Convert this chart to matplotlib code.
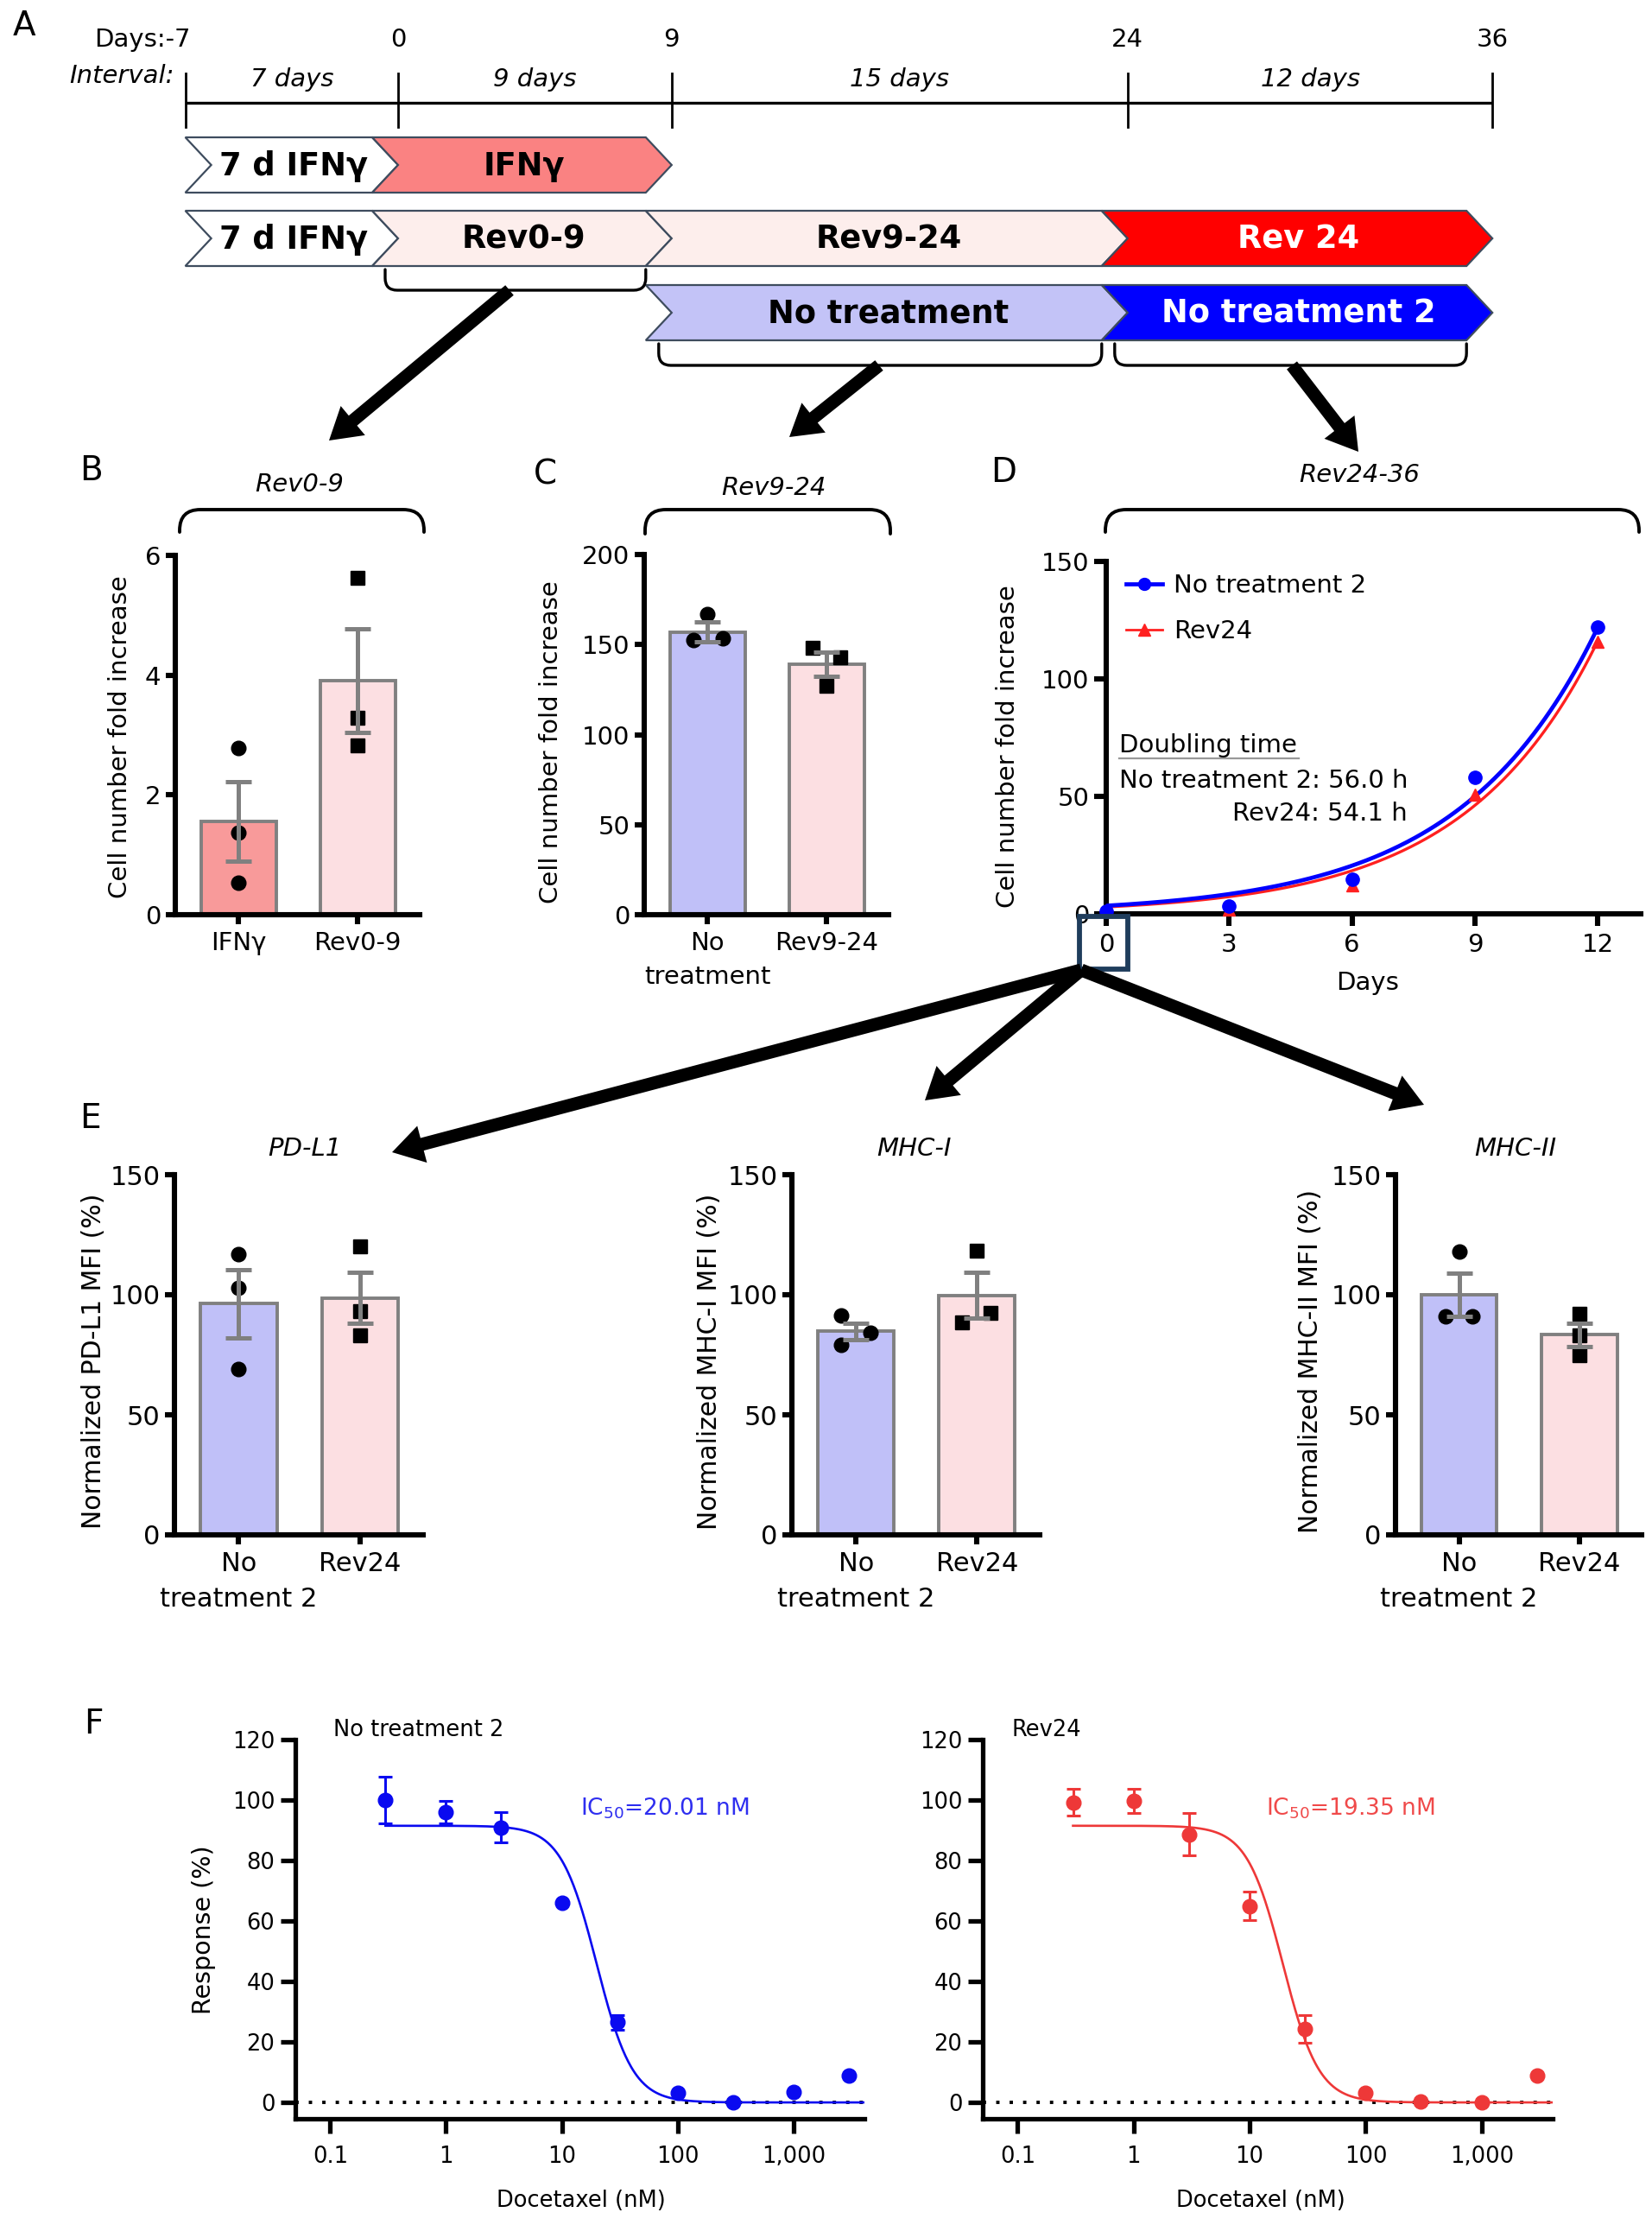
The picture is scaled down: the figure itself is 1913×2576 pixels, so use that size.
import numpy as np
import matplotlib
matplotlib.use("Agg")
import matplotlib.pyplot as plt
from matplotlib.patches import Polygon, FancyArrow, Rectangle, PathPatch
from matplotlib.path import Path
from matplotlib.lines import Line2D

# ---------------- data ----------------
# Panel A schematic (day ranges)
timeline_days = [-7, 0, 9, 24, 36]
interval_labels = ["7 days", "9 days", "15 days", "12 days"]
row1 = [("7 d IFNγ", -7, 0, "#FFFFFF", "black"), ("IFNγ", 0, 9, "#FA8282", "black")]
row2 = [("7 d IFNγ", -7, 0, "#FFFFFF", "black"), ("Rev0-9", 0, 9, "#FDEEEC", "black"),
        ("Rev9-24", 9, 24, "#FDEEEC", "black"), ("Rev 24", 24, 36, "#FF0000", "white")]
row3 = [("No treatment", 9, 24, "#C3C3F7", "black"), ("No treatment 2", 24, 36, "#0000FF", "white")]
brackets_days = [(0, 9, 1), (9, 24, 2), (24, 36, 2)]

# Panel B
b_labels = ["IFNγ", "Rev0-9"]
b_means = [1.56, 3.91]
b_sems = [0.66, 0.86]
b_points = [[2.78, 1.37, 0.53], [5.62, 3.29, 2.83]]
b_offsets = [[0, 0, 0], [0, 0, 0]]

# Panel C
c_labels = ["No\ntreatment", "Rev9-24"]
c_means = [157.0, 139.0]
c_sems = [5.5, 6.8]
c_points = [[167, 152.5, 153.5], [148, 143, 127]]
c_offsets = [[0, -0.12, 0.13], [-0.115, 0.115, 0]]

# Panel D
d_days = [0, 3, 6, 9, 12]
d_nt2 = [1, 3.3, 14.7, 58, 122]
d_rev24 = [1, 2.0, 12.3, 50.7, 115.8]
d_doubling_h = [56.0, 54.1]        # No treatment 2, Rev24
d_fit_y0 = [3.45, 2.9]

# Panel E
e_titles = ["PD-L1", "MHC-I", "MHC-II"]
e_ylabels = ["Normalized PD-L1 MFI (%)", "Normalized MHC-I MFI (%)", "Normalized MHC-II MFI (%)"]
e_labels = ["No\ntreatment 2", "Rev24"]
e_means = [[96.3, 98.7], [84.8, 99.8], [100.0, 83.3]]
e_sems = [[14.3, 10.6], [3.5, 9.4], [9.0, 4.9]]
e_points = [[[117, 103, 69], [120, 93, 83]],
            [[91.2, 84.3, 79], [118.5, 92.5, 88.5]],
            [[118, 91, 91], [92, 83, 75]]]
e_offsets = [[[0, 0, 0], [0, 0, 0]],
             [[-0.12, 0.12, -0.12], [0, 0.115, -0.12]],
             [[0, -0.11, 0.11], [0, 0, 0]]]

# Panel F
f_doses = [0.3, 1, 3, 10, 30, 100, 300, 1000, 3000]
f_nt2 = [100, 96, 91, 66, 26.5, 3.2, 0, 3.5, 9]
f_nt2_err = [7.7, 3.8, 5, 0, 2.5, 0, 0, 0, 0]
f_rev24 = [99.2, 99.8, 88.6, 65, 24.2, 3.2, 0.2, 0, 8.8]
f_rev24_err = [4.4, 4, 7, 4.7, 4.6, 0, 0, 0, 0]
f_ic50 = [20.01, 19.35]
f_top, f_hill = 91.5, 2.8
f_xticks = [0.1, 1, 10, 100, 1000]
f_xticklabels = ["0.1", "1", "10", "100", "1,000"]

# ---------------- figure ----------------
W, H = 1913, 2576
plt.rcParams['font.family'] = ['DejaVu Sans']
plt.rcParams['mathtext.fontset'] = 'dejavusans'
fig = plt.figure(figsize=(W / 100, H / 100), dpi=100)

GRAY = "#808080"
LAV = "#C0C0F8"
PINK = "#FCDFE2"
SAL = "#F89A9A"


def add_ax(x0, y0, x1, y1):
    return fig.add_axes([x0 / W, 1 - y1 / H, (x1 - x0) / W, (y1 - y0) / H])


def style(ax, lw=4.4, tl=8, ls=21, pad=4):
    for s in ["top", "right"]:
        ax.spines[s].set_visible(False)
    for s in ["left", "bottom"]:
        ax.spines[s].set_linewidth(lw)
    ax.tick_params(width=lw, length=tl, labelsize=ls, pad=pad)
    ax.set_facecolor("none")


def barpanel(ax, labels, means, sems, points, offsets, colors, markers, ylim, yticks, ls=21):
    style(ax, ls=ls)
    x = np.arange(len(labels))
    ax.bar(x, means, width=0.63, color=colors, edgecolor=GRAY, linewidth=2.8, zorder=2)
    for i in range(len(labels)):
        ax.plot(x[i] + np.array(offsets[i]), points[i], ls="none", marker=markers[i],
                color="black", ms=12 if markers[i] == "o" else 11, zorder=3, clip_on=False)
    ax.errorbar(x, means, yerr=sems, fmt="none", ecolor=GRAY, elinewidth=3.6,
                capsize=11, capthick=3.6, zorder=4)
    ax.set_xlim(-0.53, 1.52)
    ax.set_ylim(*ylim)
    ax.set_yticks(yticks)
    ax.set_xticks(x)
    ax.set_xticklabels(labels)
    ax.tick_params(axis="x", pad=6)
    for t in ax.get_xticklabels():
        t.set_linespacing(1.5)


def set_ylab(ax, text, xf, yf=0.49, size=21):
    ax.set_ylabel(text, fontsize=size)
    ax.yaxis.label.set_verticalalignment("center")
    ax.yaxis.set_label_coords(xf, yf)


# ---- Panel B
axB = add_ax(203, 643, 486, 1059)
barpanel(axB, b_labels, b_means, b_sems, b_points, b_offsets, [SAL, PINK], ["o", "s"],
         (0, 6), [0, 2, 4, 6])
set_ylab(axB, "Cell number fold increase", -0.226, 0.495)

# ---- Panel C
axC = add_ax(746, 642, 1029, 1059)
barpanel(axC, c_labels, c_means, c_sems, c_points, c_offsets, [LAV, PINK], ["o", "s"],
         (0, 200), [0, 50, 100, 150, 200])
set_ylab(axC, "Cell number fold increase", -0.38, 0.48)

# ---- Panel D
axD = add_ax(1281, 650, 1900, 1058)
style(axD, tl=10)
t = np.linspace(0, 12, 300)
axD.plot(t, d_fit_y0[1] * 2 ** (t * 24 / d_doubling_h[1]), color="#FF2020", lw=2.4, zorder=2)
axD.plot(t, d_fit_y0[0] * 2 ** (t * 24 / d_doubling_h[0]), color="#0000FF", lw=3.4, zorder=3)
axD.plot(d_days, d_rev24, ls="none", marker="^", color="#FF2020", ms=10, zorder=4, clip_on=False)
axD.plot(d_days, d_nt2, ls="none", marker="o", color="#0000FF", ms=11, zorder=5, clip_on=False)
axD.set_xlim(0, 13.05)
axD.set_ylim(0, 150)
axD.set_xticks([0, 3, 6, 9, 12])
axD.set_yticks([0, 50, 100, 150])
axD.tick_params(axis="x", pad=6)
set_ylab(axD, "Cell number fold increase", -0.184, 0.475)
axD.set_xlabel("Days", fontsize=21)
axD.xaxis.label.set_verticalalignment("center")
axD.xaxis.set_label_coords(0.488, -0.196)
hd = [Line2D([], [], color="#0000FF", lw=3.4, marker="o", ms=10),
      Line2D([], [], color="#FF2020", lw=2.0, marker="^", ms=10)]
axD.legend(hd, ["No treatment 2", "Rev24"], loc="upper left", bbox_to_anchor=(0.037, 0.965),
           frameon=False, fontsize=21, borderpad=0, borderaxespad=0, handlelength=1.45,
           handletextpad=0.45, labelspacing=0.85)

# ---- Panel E
e_boxes = [(202, 490), (917, 1204), (1616, 1901)]
e_ylx = [-0.326, -0.332, -0.347]
for k in range(3):
    ax = add_ax(e_boxes[k][0], 1360, e_boxes[k][1], 1777)
    barpanel(ax, e_labels, e_means[k], e_sems[k], e_points[k], e_offsets[k], [LAV, PINK],
             ["o", "s"], (0, 150), [0, 50, 100, 150], ls=22)
    set_ylab(ax, e_ylabels[k], e_ylx[k], 0.482, size=21.5)

# ---- Panel F
def fpanel(x0, x1, resp, err, color, ic50, ylab, xlab_x):
    ax = add_ax(x0, 2014, x1, 2453)
    style(ax, lw=3.8, tl=12, ls=18.5, pad=5)
    ax.set_xscale("log")
    ax.set_xlim(0.05, 4100)
    ax.set_ylim(-5.4, 120)
    ax.axhline(0, color="black", ls=(0, (1, 3.0)), lw=2.8, zorder=1)
    xs = np.logspace(np.log10(0.3), np.log10(4100), 500)
    ax.plot(xs, f_top / (1 + (xs / ic50) ** f_hill), color=color, lw=1.9, zorder=2)
    d = np.array(f_doses)
    r = np.array(resp)
    e = np.array(err)
    m = e > 0
    ax.errorbar(d[m], r[m], yerr=e[m], fmt="none", ecolor=color, elinewidth=2.2,
                capsize=6, capthick=2.2, zorder=3)
    ax.plot(d, r, ls="none", marker="o", color=color, ms=12, zorder=4, clip_on=False)
    ax.set_xticks(f_xticks)
    ax.set_xticklabels(f_xticklabels)
    ax.xaxis.set_minor_locator(matplotlib.ticker.NullLocator())
    ax.set_yticks([0, 20, 40, 60, 80, 100, 120])
    ax.tick_params(axis="x", pad=10)
    if ylab:
        set_ylab(ax, "Response (%)", -0.161, 0.499, size=20.5)
    ax.set_xlabel("Docetaxel (nM)", fontsize=18.5)
    ax.xaxis.label.set_verticalalignment("center")
    ax.xaxis.set_label_coords(xlab_x, -0.216)
    return ax

axF1 = fpanel(342, 1001, f_nt2, f_nt2_err, "#0A0AF0", f_ic50[0], True, 0.502)
axF2 = fpanel(1138, 1798, f_rev24, f_rev24_err, "#EE3838", f_ic50[1], False, 0.488)

# ---------------- overlay (schematic, annotations, arrows) ----------------
ov = fig.add_axes([0, 0, 1, 1])
ov.set_xlim(0, W)
ov.set_ylim(H, 0)
ov.axis("off")
ov.set_facecolor("none")

X0, PX = 461.0, 35.2   # pixel position of day 0 and pixels per day


def pos(day):
    return X0 + day * PX


# timeline
ov.plot([pos(-7), pos(36)], [119, 119], color="black", lw=2.4, solid_capstyle="butt")
for dd in timeline_days:
    ov.plot([pos(dd), pos(dd)], [85, 147], color="black", lw=2.0)
    if dd == -7:
        ov.text(pos(dd) + 6, 46, "Days:-7", ha="right", va="center", fontsize=21)
    else:
        ov.text(pos(dd), 46, str(dd), ha="center", va="center", fontsize=21)
ov.text(202, 88, "Interval:", ha="right", va="center", fontsize=21, style="italic")
for i, lab in enumerate(interval_labels):
    mid = (pos(timeline_days[i]) + pos(timeline_days[i + 1])) / 2
    ov.text(mid, 92, lab, ha="center", va="center", fontsize=21, style="italic")

D_TIP = 30
ROW_H = 64


def draw_row(row, yc):
    for lab, s, e, fc, tc in row:
        x0 = pos(s) if s == -7 else pos(s) - D_TIP
        x1 = pos(e)
        top, bot = yc - ROW_H / 2, yc + ROW_H / 2
        pts = [(x0, top), (x1 - D_TIP, top), (x1, yc), (x1 - D_TIP, bot), (x0, bot), (x0 + D_TIP, yc)]
        ov.add_patch(Polygon(pts, closed=True, facecolor=fc, edgecolor="#3e4c5e", lw=1.6, zorder=2))
        ov.text((x0 + x1) / 2 + 2, yc + 1, lab, ha="center", va="center", fontsize=26.5,
                fontweight="bold", color=tc, zorder=3)


draw_row(row1, 191)
draw_row(row2, 276)
draw_row(row3, 362)


def rbracket(x0, x1, ya, yb, r, lw=2.4):
    # rounded bracket, ends at ya, flat line at yb
    sgn = 1 if yb > ya else -1
    verts = [(x0, ya), (x0, yb - sgn * r), (x0, yb), (x0 + r, yb), (x1 - r, yb), (x1, yb),
             (x1, yb - sgn * r), (x1, ya)]
    codes = [Path.MOVETO, Path.LINETO, Path.CURVE3, Path.CURVE3, Path.LINETO, Path.CURVE3,
             Path.CURVE3, Path.LINETO]
    ov.add_patch(PathPatch(Path(verts, codes), facecolor="none", edgecolor="black", lw=lw,
                           capstyle="round", zorder=2))


# brackets under the chevrons
for s, e, rowi in brackets_days:
    ya = 312 if rowi == 1 else 398
    yb = 336 if rowi == 1 else 423
    rbracket(pos(s) - 15, pos(e) - D_TIP, ya, yb, 14)

# braces above B, C, D
rbracket(208, 491, 616, 590, 24, lw=2.8)
rbracket(747, 1031, 618, 590, 24, lw=2.8)
rbracket(1280, 1898, 616, 590, 24, lw=2.8)
ov.text(347, 561, "Rev0-9", ha="center", va="center", fontsize=21, style="italic")
ov.text(896, 565, "Rev9-24", ha="center", va="center", fontsize=21, style="italic")
ov.text(1574, 550, "Rev24-36", ha="center", va="center", fontsize=21, style="italic")

# panel letters
for lab, x, y in [("A", 28, 30), ("B", 105, 545), ("C", 631, 549), ("D", 1162, 547),
                  ("E", 104, 1295), ("F", 108, 1996)]:
    ov.text(x, y, lab, ha="center", va="center", fontsize=28)

# D annotations
ov.text(1296, 863, "Doubling time", ha="left", va="center", fontsize=21)
ov.plot([1296, 1504], [878, 878], color="#999999", lw=1.6)
ov.text(1296, 904, "No treatment 2: %.1f h" % d_doubling_h[0], ha="left", va="center", fontsize=21)
ov.text(1630, 942, "Rev24: %.1f h" % d_doubling_h[1], ha="right", va="center", fontsize=21)
ov.add_patch(Rectangle((1250, 1061), 56, 61, facecolor="none", edgecolor="#1f3d5c", lw=4.2, zorder=5))

# E titles
for txt, x in zip(e_titles, [353, 1058, 1755]):
    ov.text(x, 1330, txt, ha="center", va="center", fontsize=21, style="italic")

# F annotations
ov.text(386, 2003, "No treatment 2", ha="left", va="center", fontsize=18.5)
ov.text(1172, 2003, "Rev24", ha="left", va="center", fontsize=18.5)
ov.text(672, 2094, "IC$_{50}$=%.2f nM" % f_ic50[0], ha="left", va="center", fontsize=19, color="#2E2EF0")
ov.text(1466, 2094, "IC$_{50}$=%.2f nM" % f_ic50[1], ha="left", va="center", fontsize=19, color="#F04A4A")

# arrows
arrows = [((590, 336), (381, 510)), ((1018, 423), (914, 506)), ((1496, 423), (1573, 523)),
          ((1252, 1123), (454, 1334)), ((1252, 1123), (1071, 1274)), ((1252, 1123), (1649, 1279))]
for (xa, ya), (xb, yb) in arrows:
    ov.add_patch(FancyArrow(xa, ya, xb - xa, yb - ya, width=15, head_width=44, head_length=36,
                            length_includes_head=True, facecolor="black", edgecolor="black",
                            lw=0, zorder=6))

fig.savefig("out.png", dpi=100)
